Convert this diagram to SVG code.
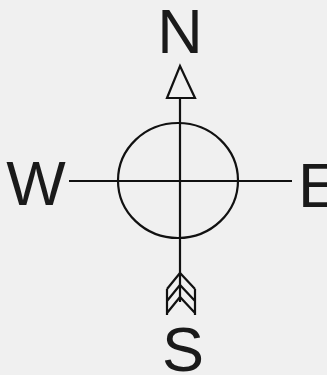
<svg xmlns="http://www.w3.org/2000/svg" width="327" height="375" viewBox="0 0 327 375">
<style>
.l{stroke:#111;stroke-width:2.2;fill:none}
.t{font-family:"Liberation Sans",Arial,sans-serif;font-size:63px;fill:#1a1a1a}
</style>
<rect width="327" height="375" fill="#f0f0f0"/>
<g id="connectors">
<line class="l" x1="180" y1="98" x2="180" y2="302"/>
<line class="l" x1="69" y1="181" x2="292" y2="181"/>
</g>
<g id="circle"><ellipse class="l" cx="178" cy="180.5" rx="60" ry="57.5"/></g>
<g id="north-arrow"><polygon class="l" points="180,66 195,98 167,98"/></g>
<g id="feathers">
<path class="l" d="M167,289 L180,273 L195,289 M167,301 L180,285 L195,301 M167,313 L180,297 L195,313 M167,289 V315 M195,289 V315"/>
</g>
<g id="N"><text class="t" x="180" y="53" text-anchor="middle">N</text></g>
<g id="W"><text class="t" x="36" y="205" text-anchor="middle">W</text></g>
<g id="E"><text class="t" x="298" y="207">E</text></g>
<g id="S"><text class="t" x="183" y="371" text-anchor="middle">S</text></g>
</svg>
